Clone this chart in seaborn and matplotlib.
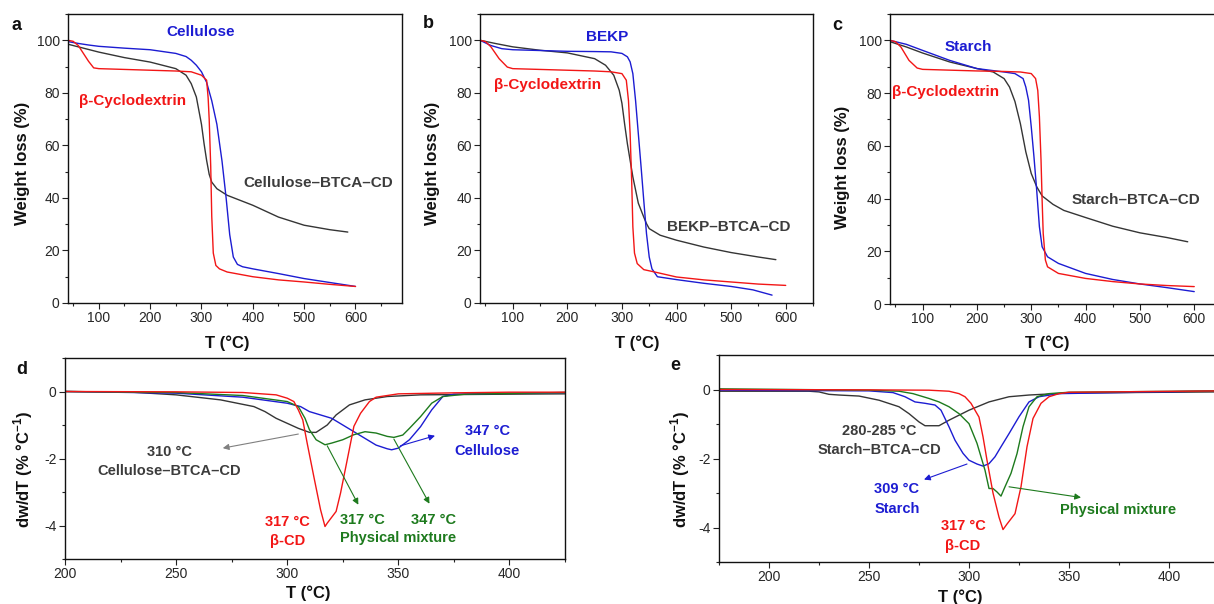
import matplotlib
matplotlib.use("Agg")
import matplotlib.pyplot as plt
from matplotlib.ticker import MultipleLocator
import seaborn as sns

# ---- panel a: TGA, cellulose ----
a_cel_T = [40, 60, 80, 100, 150, 200, 250, 270, 280, 290, 300, 310, 320, 330, 340, 348, 355, 362, 370, 380, 400, 450, 500, 550, 600]
a_cel_W = [99.5, 98.8, 98.2, 97.7, 97.0, 96.4, 95.0, 93.8, 92.4, 90.5, 88.0, 84.0, 77.0, 68.0, 54.0, 40.0, 26.0, 17.5, 14.7, 13.8, 13.0, 11.2, 9.3, 7.8, 6.3]
a_cd_T = [40, 50, 60, 70, 80, 90, 100, 150, 200, 250, 280, 300, 310, 313, 315, 318, 320, 323, 328, 335, 350, 400, 450, 500, 550, 600]
a_cd_W = [100, 99.6, 98, 95, 92, 89.5, 89.2, 88.9, 88.6, 88.3, 88, 86.7, 84.8, 78, 70, 52, 33, 19, 14.3, 13, 11.8, 10, 8.8, 8, 7.1, 6.3]
a_bt_T = [40, 70, 100, 150, 200, 250, 270, 280, 290, 300, 305, 310, 315, 320, 330, 350, 400, 450, 500, 550, 585]
a_bt_W = [98.5, 97, 95.5, 93.4, 91.7, 89.2, 86.7, 83.5, 78.4, 68, 60.7, 54.3, 49, 46, 43.5, 41, 37.2, 32.7, 29.6, 27.9, 27]

# ---- panel b: TGA, BEKP ----
b_bekp_T = [40, 50, 60, 80, 100, 150, 200, 250, 280, 300, 310, 315, 320, 325, 330, 335, 340, 345, 350, 355, 365, 400, 450, 500, 540, 575]
b_bekp_W = [100, 99, 98, 96.8, 96.4, 96.1, 95.8, 95.7, 95.6, 95, 93.7, 91.8, 87.3, 77, 64.5, 52, 39, 26.4, 17.5, 13, 10, 8.9, 7.5, 6.3, 5, 3]
b_cd_T = [40, 50, 60, 75, 90, 100, 150, 200, 250, 280, 300, 308, 312, 315, 318, 320, 323, 328, 340, 360, 400, 450, 500, 550, 600]
b_cd_W = [100, 99.5, 97.5, 93, 89.8, 89.2, 88.9, 88.6, 88.3, 88, 87.3, 84.8, 77, 64.5, 45.4, 29, 19, 15, 12.7, 11.8, 9.9, 8.8, 8, 7.2, 6.7]
b_bt_T = [40, 70, 100, 150, 200, 250, 270, 285, 295, 300, 305, 310, 315, 320, 325, 330, 340, 345, 350, 370, 400, 450, 500, 550, 582]
b_bt_W = [100, 98.7, 97.5, 96.2, 95.2, 93, 90.5, 86.7, 81, 76, 68, 60.6, 54.3, 48, 43, 38, 32.7, 30.2, 28.3, 25.8, 23.9, 21.3, 19.2, 17.5, 16.5]

# ---- panel c: TGA, starch ----
c_st_T = [40, 70, 100, 150, 200, 250, 270, 285, 290, 295, 300, 305, 310, 315, 320, 330, 350, 400, 450, 500, 550, 600]
c_st_W = [100, 98.5, 96.2, 92.4, 89.3, 88, 87.4, 85.5, 82.3, 77.3, 67.2, 55.8, 43.2, 29.3, 21.7, 17.9, 15.4, 11.6, 9.3, 7.6, 6.2, 4.7]
c_cd_T = [40, 50, 60, 75, 90, 100, 150, 200, 250, 280, 300, 308, 312, 315, 318, 320, 322, 326, 330, 350, 400, 450, 500, 550, 600]
c_cd_W = [100, 99.5, 97.5, 92.4, 89.5, 89, 88.7, 88.4, 88.2, 88, 87.4, 85.5, 81, 71, 54.5, 39.4, 26.8, 16.7, 14.1, 11.6, 9.7, 8.5, 7.6, 7.0, 6.6]
c_bt_T = [40, 70, 100, 150, 200, 230, 250, 260, 270, 280, 290, 300, 310, 320, 340, 360, 400, 450, 500, 550, 588]
c_bt_W = [99.5, 97.5, 95.2, 91.8, 89.3, 88, 85.5, 82.3, 76.8, 68.4, 57.7, 49.5, 44.5, 41, 37.8, 35.5, 32.8, 29.5, 27, 25.2, 23.6]

# ---- panel d: DTG, cellulose ----
d_cd_T = [200, 250, 280, 295, 300, 303, 305, 307, 309, 312, 315, 317, 318, 322, 324, 327, 330, 333, 337, 340, 350, 375, 400, 425]
d_cd_Y = [0, -0.01, -0.03, -0.1, -0.2, -0.3, -0.55, -0.85, -1.55, -2.55, -3.53, -4.03, -3.93, -3.58, -3.03, -2.04, -1.04, -0.65, -0.3, -0.17, -0.07, -0.04, -0.02, -0.02]
d_cel_T = [200, 250, 280, 300, 306, 310, 315, 320, 325, 330, 335, 340, 345, 347, 350, 355, 360, 365, 370, 375, 400, 425]
d_cel_Y = [0, -0.05, -0.17, -0.35, -0.45, -0.6, -0.7, -0.8, -1.0, -1.2, -1.4, -1.6, -1.71, -1.74, -1.69, -1.44, -1.05, -0.55, -0.15, -0.08, -0.05, -0.03]
d_mix_T = [200, 250, 280, 300, 305, 308, 310, 313, 317, 320, 325, 330, 335, 340, 345, 348, 352, 355, 360, 365, 370, 380, 425]
d_mix_Y = [0, -0.03, -0.12, -0.3, -0.45, -0.8, -1.14, -1.44, -1.59, -1.54, -1.44, -1.29, -1.2, -1.24, -1.34, -1.37, -1.3, -1.1, -0.75, -0.35, -0.15, -0.08, -0.03]
d_bt_T = [200, 230, 250, 270, 285, 290, 295, 300, 305, 310, 313, 318, 322, 328, 335, 345, 360, 400, 425]
d_bt_Y = [0, -0.02, -0.1, -0.25, -0.45, -0.6, -0.8, -0.95, -1.1, -1.22, -1.22, -1.0, -0.7, -0.4, -0.25, -0.15, -0.1, -0.08, -0.07]

# ---- panel e: DTG, starch ----
e_cd_T = [175, 250, 280, 290, 295, 298, 301, 303, 305, 307, 309, 312, 315, 317, 319, 323, 326, 329, 332, 336, 340, 345, 350, 425]
e_cd_Y = [0, -0.01, -0.02, -0.05, -0.12, -0.21, -0.4, -0.6, -0.8, -1.37, -2.05, -3.0, -3.7, -4.06, -3.9, -3.6, -2.82, -1.66, -0.84, -0.4, -0.21, -0.12, -0.08, -0.04]
e_st_T = [175, 250, 262, 268, 273, 278, 283, 286, 290, 293, 297, 300, 304, 307, 310, 313, 316, 320, 325, 330, 335, 345, 425]
e_st_Y = [-0.02, -0.04, -0.09, -0.21, -0.36, -0.4, -0.45, -0.6, -1.08, -1.47, -1.85, -2.05, -2.16, -2.22, -2.15, -1.95, -1.66, -1.28, -0.79, -0.36, -0.21, -0.12, -0.04]
e_mix_T = [175, 250, 265, 272, 280, 285, 290, 295, 300, 304, 308, 310, 312, 314, 316, 318, 321, 324, 327, 330, 334, 340, 350, 425]
e_mix_Y = [0.02, -0.02, -0.05, -0.12, -0.26, -0.36, -0.5, -0.7, -0.99, -1.56, -2.34, -2.87, -2.87, -2.97, -3.09, -2.82, -2.43, -1.86, -1.08, -0.5, -0.21, -0.12, -0.08, -0.04]
e_bt_T = [175, 220, 225, 230, 235, 245, 255, 265, 270, 275, 278, 285, 290, 300, 310, 320, 330, 350, 425]
e_bt_Y = [-0.05, -0.05, -0.07, -0.14, -0.16, -0.19, -0.31, -0.5, -0.7, -0.94, -1.05, -1.05, -0.89, -0.6, -0.36, -0.21, -0.16, -0.1, -0.07]

RED = '#f21616'
BLUE = '#1c1cd2'
GREEN = '#1d7a1d'
DARK = '#353535'
DARK_TXT = '#3c3c3c'

W, H = 1214, 604


def box(left, top, right, bottom):
    # pixel box -> figure fraction
    return [left / W, 1 - bottom / H, (right - left) / W, (bottom - top) / H]


def curve(ax, T, Y, color):
    sns.lineplot(x=T, y=Y, color=color, linewidth=1.0, ax=ax, estimator=None, sort=False)


def fig_text(x, y, s, **kw):
    fig.text(x / W, 1 - y / H, s, ha='center', va='center', **kw)


def style_axes(ax, xlim, ylim, xmaj, xmin, ymaj, ymin):
    ax.set_xlim(*xlim)
    ax.set_ylim(*ylim)
    ax.xaxis.set_major_locator(MultipleLocator(xmaj))
    ax.xaxis.set_minor_locator(MultipleLocator(xmin))
    ax.yaxis.set_major_locator(MultipleLocator(ymaj))
    ax.yaxis.set_minor_locator(MultipleLocator(ymin))
    ax.tick_params(which='major', direction='out', length=4, width=0.8, labelsize=10, pad=2, color='#222222')
    ax.tick_params(which='minor', direction='out', length=2.5, width=0.8, color='#222222')
    ax.set_xlabel('')
    ax.set_ylabel('')
    for sp in ax.spines.values():
        sp.set_linewidth(1.0)
        sp.set_color('#111111')


sns.set_theme(style='ticks')
plt.rcParams['font.family'] = ['Liberation Sans', 'DejaVu Sans']
plt.rcParams['mathtext.fontset'] = 'custom'
plt.rcParams['mathtext.rm'] = 'Liberation Sans'
plt.rcParams['mathtext.bf'] = 'Liberation Sans:bold'
plt.rcParams['axes.unicode_minus'] = False

fig = plt.figure(figsize=(W / 100, H / 100), dpi=100)

ax_a = fig.add_axes(box(68, 14, 401.7, 303))
ax_b = fig.add_axes(box(480, 14, 813, 303))
ax_c = fig.add_axes(box(890, 14, 1221.4, 304))
ax_d = fig.add_axes(box(65, 358, 565, 559))
ax_e = fig.add_axes(box(719, 355, 1219, 562))

# TGA curves
curve(ax_a, a_bt_T, a_bt_W, DARK)
curve(ax_a, a_cel_T, a_cel_W, BLUE)
curve(ax_a, a_cd_T, a_cd_W, RED)
curve(ax_b, b_bt_T, b_bt_W, DARK)
curve(ax_b, b_bekp_T, b_bekp_W, BLUE)
curve(ax_b, b_cd_T, b_cd_W, RED)
curve(ax_c, c_bt_T, c_bt_W, DARK)
curve(ax_c, c_st_T, c_st_W, BLUE)
curve(ax_c, c_cd_T, c_cd_W, RED)

style_axes(ax_a, (40, 690), (0, 110), 100, 50, 20, 10)
style_axes(ax_b, (40, 650), (0, 110), 100, 50, 20, 10)
style_axes(ax_c, (40, 650), (0, 110), 100, 50, 20, 10)

lab = dict(fontsize=11, fontweight='bold', ha='center', va='center')
ax_a.text(298, 103, 'Cellulose', color=BLUE, **lab)
ax_a.text(165, 77, 'β-Cyclodextrin', color=RED, **lab)
ax_a.text(528, 45.5, 'Cellulose–BTCA–CD', color=DARK_TXT, **lab)
ax_b.text(272, 101.3, 'BEKP', color=BLUE, **lab)
ax_b.text(163, 82.9, 'β-Cyclodextrin', color=RED, **lab)
ax_b.text(496, 28.9, 'BEKP–BTCA–CD', color=DARK_TXT, **lab)
ax_c.text(184, 97.5, 'Starch', color=BLUE, **lab)
ax_c.text(143, 80.4, 'β-Cyclodextrin', color=RED, **lab)
ax_c.text(493, 39.4, 'Starch–BTCA–CD', color=DARK_TXT, **lab)

# DTG curves
curve(ax_d, d_bt_T, d_bt_Y, DARK)
curve(ax_d, d_cel_T, d_cel_Y, BLUE)
curve(ax_d, d_mix_T, d_mix_Y, GREEN)
curve(ax_d, d_cd_T, d_cd_Y, RED)
curve(ax_e, e_bt_T, e_bt_Y, DARK)
curve(ax_e, e_st_T, e_st_Y, BLUE)
curve(ax_e, e_mix_T, e_mix_Y, GREEN)
curve(ax_e, e_cd_T, e_cd_Y, RED)

style_axes(ax_d, (200, 425), (-5, 1), 50, 25, 2, 1)
style_axes(ax_e, (175, 425), (-5, 1), 50, 25, 2, 1)

dl = dict(fontsize=10.5, fontweight='bold', ha='center', va='center', linespacing=1.5)


def arrow(ax, start, tip, color):
    ax.annotate('', xy=tip, xytext=start,
                arrowprops=dict(arrowstyle='-|>', color=color, lw=0.8, mutation_scale=9,
                                shrinkA=0, shrinkB=0))


ax_d.text(247, -2.09, '310 °C\nCellulose–BTCA–CD', color=DARK_TXT, **dl)
arrow(ax_d, (305, -1.27), (271, -1.69), '#808080')
ax_d.text(390, -1.48, '347 °C\nCellulose', color=BLUE, **dl)
arrow(ax_d, (351, -1.62), (366.5, -1.32), BLUE)
ax_d.text(300, -4.18, '317 °C\nβ-CD', color=RED, **dl)
ax_d.text(334, -3.83, '317 °C', color=GREEN, **dl)
ax_d.text(365.7, -3.83, '347 °C', color=GREEN, **dl)
ax_d.text(350, -4.38, 'Physical mixture', color=GREEN, **dl)
arrow(ax_d, (318, -1.62), (332, -3.38), GREEN)
arrow(ax_d, (348, -1.42), (364, -3.35), GREEN)

ax_e.text(255, -1.48, '280-285 °C\nStarch–BTCA–CD', color=DARK_TXT, **dl)
arrow(ax_e, (299, -2.16), (277.5, -2.61), BLUE)
ax_e.text(264, -3.17, '309 °C\nStarch', color=BLUE, **dl)
ax_e.text(297, -4.25, '317 °C\nβ-CD', color=RED, **dl)
arrow(ax_e, (320, -2.82), (356, -3.13), GREEN)
ax_e.text(374.5, -3.5, 'Physical mixture', color=GREEN, **dl)

# axis titles and panel letters
ttl = dict(fontsize=12, fontweight='bold', color='#111111')
fig_text(227, 343, 'T (°C)', **ttl)
fig_text(637, 343, 'T (°C)', **ttl)
fig_text(1047, 343, 'T (°C)', **ttl)
fig_text(308, 593, 'T (°C)', **ttl)
fig_text(960, 597, 'T (°C)', **ttl)
fig_text(23, 163, 'Weight loss (%)', rotation=90, **ttl)
fig_text(433, 163, 'Weight loss (%)', rotation=90, **ttl)
fig_text(843, 167, 'Weight loss (%)', rotation=90, **ttl)
fig_text(23, 470, r'dw/dT (% °C$^{\mathbf{-1}}$)', rotation=90, **ttl)
fig_text(680, 470, r'dw/dT (% °C$^{\mathbf{-1}}$)', rotation=90, **ttl)

let = dict(fontsize=13, fontweight='bold', color='#111111')
fig_text(17, 25, 'a', **let)
fig_text(428, 23, 'b', **let)
fig_text(837, 25, 'c', **let)
fig_text(22, 370, 'd', **let)
fig_text(675, 365, 'e', **let)

fig.savefig('out.png', dpi=100)
